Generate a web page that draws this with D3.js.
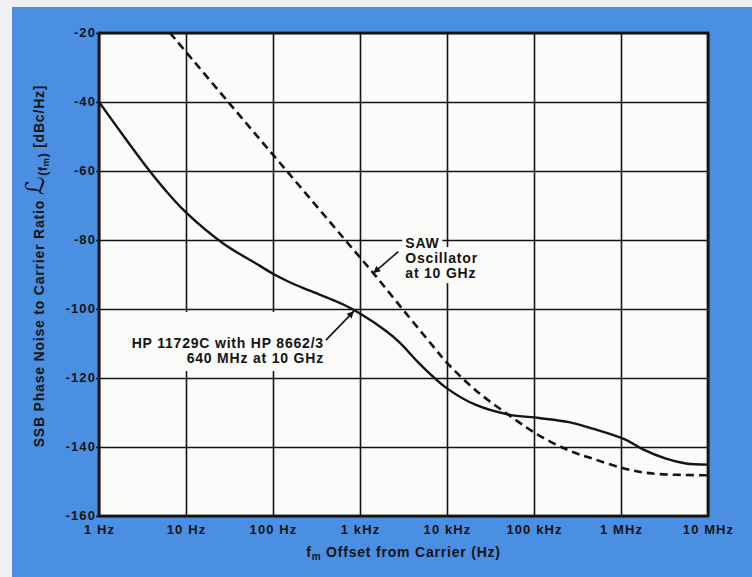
<!DOCTYPE html>
<html>
<head>
<meta charset="utf-8">
<script src="https://cdn.jsdelivr.net/npm/d3@7"></script>
<style>
  html, body { margin: 0; padding: 0; background: #eef0f3; }
  svg { display: block; }
  text { font-family: "Liberation Sans", Arial, Helvetica, sans-serif; font-weight: bold; fill: #141414; }
</style>
</head>
<body>
<svg id="chart" width="752" height="577"></svg>
<script>
// ---- data ----
const freqTicks = [1, 10, 100, 1e3, 1e4, 1e5, 1e6, 1e7];
const freqLabels = ["1 Hz", "10 Hz", "100 Hz", "1 kHz", "10 kHz", "100 kHz", "1 MHz", "10 MHz"];
const dbTicks = [-160, -140, -120, -100, -80, -60, -40, -20];

// HP 11729C with HP 8662/3, 640 MHz at 10 GHz (solid)
const hpFreq = [1, 2, 3.69, 5.5, 10, 26.8, 71, 100, 160, 266, 643, 1000, 2028, 2884, 4900, 10000, 21500, 51600, 114000, 252000, 477000, 1110000, 1790000, 3290000, 5580000, 10000000];
const hpDb   = [-40, -50.5, -59.5, -64.9, -72, -81, -87.5, -89.8, -92.4, -94.7, -98.7, -101.3, -106.5, -109.8, -116, -123, -127.8, -130.6, -131.6, -132.8, -134.7, -137.8, -140.7, -143.4, -144.8, -145.1];

// SAW oscillator at 10 GHz (dashed)
const sawFreq = [6.55, 30.6, 144, 676, 1422, 3147, 6966, 10000, 21500, 51600, 114000, 252000, 477000, 1110000, 2300000, 10000000];
const sawDb   = [-20, -40, -60, -80, -89.6, -100.3, -110.9, -115.6, -123.6, -130.8, -136.6, -141, -143.4, -146.3, -147.7, -148.2];

const sawLabel = ["SAW", "Oscillator", "at 10 GHz"];
const hpLabel = ["HP 11729C with HP 8662/3", "640 MHz at 10 GHz"];
const sawTip = [1422, -89.6];
const hpTip = [852, -100.6];

const yTitle = "SSB Phase Noise to Carrier Ratio";
const xTitle = "Offset from Carrier (Hz)";

// ---- layout ----
const svg = d3.select("#chart");
const L = 99, R = 708, T = 33, B = 516;
const x = d3.scaleLog().domain([1, 1e7]).range([L, R]);
const y = d3.scaleLinear().domain([-160, -20]).range([B, T]);
const ink = "#141414";
const FS = "14px", LS = "0.8px";
const TFS = "13px", TLS = "1.1px";

// backgrounds
svg.append("rect").attr("x", 0).attr("y", 0).attr("width", 752).attr("height", 577).attr("fill", "#eef0f3");
svg.append("rect").attr("x", 12).attr("y", 7).attr("width", 740).attr("height", 570).attr("fill", "#4b8fe3");
svg.append("rect").attr("x", L).attr("y", T).attr("width", R - L).attr("height", B - T).attr("fill", "#fbfbf9");

// grid + axes
const gx = svg.append("g").attr("transform", `translate(0,${B})`)
  .call(d3.axisBottom(x).tickValues(freqTicks).tickFormat((d, i) => freqLabels[i])
        .tickSize(-(B - T)).tickSizeOuter(0).tickPadding(9));
const gy = svg.append("g").attr("transform", `translate(${L},0)`)
  .call(d3.axisLeft(y).tickValues(dbTicks).tickFormat(d => d)
        .tickSize(-(R - L)).tickSizeOuter(0).tickPadding(3));
gy.selectAll(".tick line").attr("x1", -3);
[gx, gy].forEach(g => {
  g.select(".domain").remove();
  g.attr("font-family", null).attr("font-size", null);
  g.selectAll(".tick line").attr("stroke", ink).attr("stroke-width", 1.6);
  g.selectAll(".tick text").attr("fill", ink).style("font-size", TFS).style("letter-spacing", TLS);
});
gy.selectAll(".tick text").attr("dy", "0.28em");

// white knock-out boxes behind annotations
const sawX = x(sawTip[0]), sawY = y(sawTip[1]);
const hpX = x(hpTip[0]), hpY = y(hpTip[1]);
svg.append("rect").attr("x", sawX + 29).attr("y", sawY - 37).attr("width", 40).attr("height", 14).attr("fill", "#fbfbf9");
svg.append("rect").attr("x", sawX + 29).attr("y", sawY - 26).attr("width", 76).attr("height", 36).attr("fill", "#fbfbf9");
svg.append("rect").attr("x", hpX - 226).attr("y", hpY + 1).attr("width", 200).attr("height", 59).attr("fill", "#fbfbf9");

// frame
svg.append("rect").attr("x", L).attr("y", T).attr("width", R - L).attr("height", B - T)
  .attr("fill", "none").attr("stroke", ink).attr("stroke-width", 2.8);

// curves
const clip = svg.append("clipPath").attr("id", "plotclip");
clip.append("rect").attr("x", L).attr("y", T).attr("width", R - L).attr("height", B - T);
const line = d3.line().x(d => x(d[0])).y(d => y(d[1])).curve(d3.curveCatmullRom.alpha(0.5));
const hpData = hpFreq.map((f, i) => [f, hpDb[i]]);
const sawData = sawFreq.map((f, i) => [f, sawDb[i]]);
svg.append("path").datum(hpData).attr("clip-path", "url(#plotclip)")
  .attr("d", line).attr("fill", "none").attr("stroke", ink).attr("stroke-width", 2.4);
svg.append("path").datum(sawData).attr("clip-path", "url(#plotclip)")
  .attr("d", line).attr("fill", "none").attr("stroke", ink).attr("stroke-width", 2.6)
  .attr("stroke-dasharray", "8,5");

// arrow marker
const defs = svg.append("defs");
defs.append("marker").attr("id", "arrow").attr("viewBox", "0 0 10 10")
  .attr("refX", 10).attr("refY", 5).attr("markerWidth", 9).attr("markerHeight", 7)
  .attr("markerUnits", "userSpaceOnUse").attr("orient", "auto")
  .append("path").attr("d", "M0,0 L10,5 L0,10 Z").attr("fill", ink);

// SAW annotation
svg.append("line").attr("x1", sawX + 25).attr("y1", sawY - 21.5).attr("x2", sawX).attr("y2", sawY)
  .attr("stroke", ink).attr("stroke-width", 1.6).attr("marker-end", "url(#arrow)");
const sawText = svg.append("text").attr("x", sawX + 32).attr("y", sawY - 25.5)
  .style("font-size", FS).style("letter-spacing", LS);
sawLabel.forEach((s, i) => sawText.append("tspan").attr("x", sawX + 32).attr("dy", i === 0 ? 0 : 15.2).text(s));

// HP annotation
svg.append("line").attr("x1", hpX - 28).attr("y1", hpY + 29).attr("x2", hpX).attr("y2", hpY)
  .attr("stroke", ink).attr("stroke-width", 1.6).attr("marker-end", "url(#arrow)");
const hpText = svg.append("text").attr("x", hpX - 30).attr("y", hpY + 37)
  .attr("text-anchor", "end").style("font-size", FS).style("letter-spacing", LS);
hpLabel.forEach((s, i) => hpText.append("tspan").attr("x", hpX - 30).attr("dy", i === 0 ? 0 : 15).text(s));

// x title
const xt = svg.append("text").attr("x", (L + R) / 2).attr("y", 557).attr("text-anchor", "middle")
  .style("font-size", FS).style("letter-spacing", LS);
xt.append("tspan").text("f");
xt.append("tspan").attr("dy", 3).style("font-size", "10px").text("m");
xt.append("tspan").attr("dy", -3).text(" " + xTitle);

// y title
const yt = svg.append("text").attr("transform", "translate(44,266) rotate(-90)")
  .attr("text-anchor", "middle").style("font-size", FS).style("letter-spacing", LS);
yt.append("tspan").text(yTitle + " ");
yt.append("tspan").style("font-size", "26px").style("font-weight", "normal").style("font-style", "italic")
  .style("font-family", "'DejaVu Serif', 'DejaVu Sans', serif").text("\u2112");
yt.append("tspan").attr("dy", 3).style("font-size", "12px").text("(f");
yt.append("tspan").attr("dy", 2).style("font-size", "9px").text("m");
yt.append("tspan").attr("dy", -2).style("font-size", "12px").text(")");
yt.append("tspan").attr("dy", -3).text(" [dBc/Hz]");
</script>
</body>
</html>
